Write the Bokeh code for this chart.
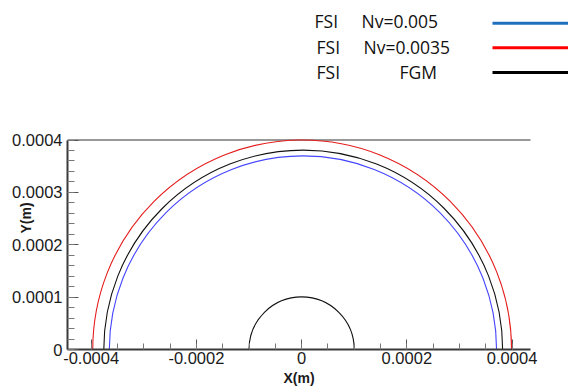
import math
from bokeh.plotting import figure
from bokeh.models import (Range1d, SingleIntervalTicker, FixedTicker, LinearAxis,
                          CustomJSTickFormatter, ColumnDataSource)
from bokeh.embed import file_html
from bokeh.resources import INLINE
from bokeh.core.properties import value

# ---- data ----
series_prefix = ["FSI", "FSI", "FSI"]
series_labels = ["Nv=0.005", "Nv=0.0035", "FGM"]
center_x = [0.0000025, 0.000001, 0.000003]
center_y = [0.0, 0.0, 0.0]
radius = [0.000368, 0.000398, 0.000379]
plot_colors = ["#4545ff", "#e41c1c", "#111111"]
legend_colors = ["#1f6fbf", "#ff0000", "#000000"]

inner_center_x = [0.0]
inner_center_y = [0.0]
inner_radius = [0.0001]

x_lim = (-0.000445, 0.000435)
y_lim = (0.0, 0.0004)
x_tick_interval = 0.0002
y_major_ticks = [0.0, 0.0001, 0.0002, 0.0003, 0.0004]
y_minor_per_major = 5

# ---- page geometry (pixels) ----
W, H = 568, 387
AXIS_LEFT = 67
AXIS_RIGHT = 530
AXIS_TOP = 139.5
AXIS_BOTTOM = 349

px_per_x = (AXIS_RIGHT - AXIS_LEFT) / (x_lim[1] - x_lim[0])
px_per_y = (AXIS_BOTTOM - AXIS_TOP) / (y_lim[1] - y_lim[0])
# the frame covers the whole canvas; the axes are fixed at the box edges
x_range = Range1d(x_lim[0] - AXIS_LEFT / px_per_x, x_lim[0] + (W - AXIS_LEFT) / px_per_x)
y_range = Range1d(y_lim[0] - (H - AXIS_BOTTOM) / px_per_y, y_lim[0] + AXIS_BOTTOM / px_per_y)

p = figure(width=W, height=H, x_range=x_range, y_range=y_range,
           toolbar_location=None, output_backend="svg", min_border=0,
           x_axis_location=None, y_axis_location=None)
p.grid.visible = False
p.outline_line_color = None

# pixel-coordinate ranges for legend and axis titles
p.extra_x_ranges = {"px": Range1d(0, W)}
p.extra_y_ranges = {"py": Range1d(H, 0)}

fmt = CustomJSTickFormatter(code="return Math.abs(tick) < 1e-12 ? '0' : tick.toPrecision(1);")

y_step = y_major_ticks[1] - y_major_ticks[0]
y_minor_ticks = [y_major_ticks[0] + i * y_step / y_minor_per_major
                 for i in range((len(y_major_ticks) - 1) * y_minor_per_major + 1)]

xaxis = LinearAxis(ticker=SingleIntervalTicker(interval=x_tick_interval, num_minor_ticks=4),
                   formatter=fmt, bounds=x_lim, fixed_location=y_lim[0])
yaxis = LinearAxis(ticker=FixedTicker(ticks=y_major_ticks, minor_ticks=y_minor_ticks),
                   formatter=fmt, bounds=y_lim, fixed_location=x_lim[0])
for ax, mj, mn, so in ((xaxis, 10, 6, 2), (yaxis, 11, 7, 5)):
    ax.major_tick_in = mj
    ax.major_tick_out = 0
    ax.minor_tick_in = mn
    ax.minor_tick_out = 0
    ax.axis_line_width = 2
    ax.axis_line_color = "#3a3a3a"
    ax.major_tick_line_color = "#555555"
    ax.minor_tick_line_color = "#777777"
    ax.major_label_text_font = "Liberation Sans"
    ax.major_label_text_font_size = "16.5px"
    ax.major_label_text_color = "#1a1a1a"
    ax.major_label_standoff = so
p.add_layout(xaxis, "below")
p.add_layout(yaxis, "left")

# top border line of the plotting box
p.segment(x0=[x_lim[0]], y0=[y_lim[1]], x1=[x_lim[1]], y1=[y_lim[1]],
          line_color="#333333", line_width=1)

src = ColumnDataSource(dict(x=center_x, y=center_y, r=radius, c=plot_colors))
p.arc(x="x", y="y", radius="r", start_angle=0, end_angle=math.pi, line_color="c",
      line_width=1.1, source=src)
p.arc(x=inner_center_x, y=inner_center_y, radius=inner_radius, start_angle=0, end_angle=math.pi,
      line_color="#111111", line_width=1.1)

# axis titles
p.text(x=[25], y=[217.5], text=["Y(m)"], angle=math.pi / 2, text_align="center",
       text_baseline="middle", text_font=value("Liberation Sans"), text_font_size="14px",
       text_font_style="bold", text_color="#1a1a1a", x_range_name="px", y_range_name="py")
p.text(x=[(AXIS_LEFT + AXIS_RIGHT) / 2], y=[377.5], text=["X(m)"], text_align="center",
       text_baseline="middle", text_font=value("Liberation Sans"), text_font_size="14px",
       text_font_style="bold", text_color="#1a1a1a", x_range_name="px", y_range_name="py")

# legend (text left, line sample right)
leg_src = ColumnDataSource(dict(
    prefix=series_prefix, label=series_labels, color=legend_colors,
    px=[314, 316, 316], lx=[361, 363, 399], ty=[20.7, 46.7, 71.7],
    x0=[492, 492, 492], x1=[570, 570, 570], ly=[22.7, 47.3, 72.0]))
for col, xcol in (("prefix", "px"), ("label", "lx")):
    p.text(x=xcol, y="ty", text=col, source=leg_src, text_font=value("Open Sans"),
           text_font_size="17.5px", text_color="#111111", text_baseline="alphabetic",
           text_align="left", x_range_name="px", y_range_name="py")
p.segment(x0="x0", y0="ly", x1="x1", y1="ly", line_color="color", line_width=3,
          source=leg_src, x_range_name="px", y_range_name="py")

open("out.html", "w").write(file_html(p, INLINE))
